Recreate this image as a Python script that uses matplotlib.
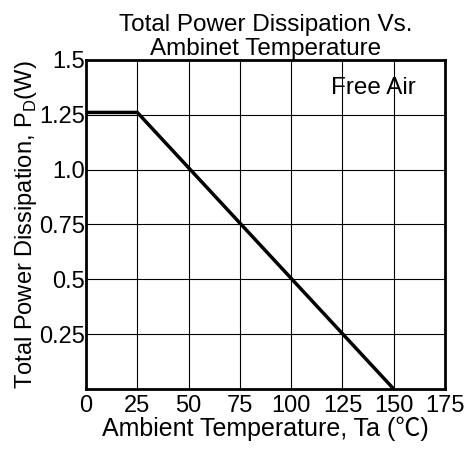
import matplotlib
matplotlib.use('Agg')
import matplotlib.pyplot as plt

plt.rcParams['font.family'] = ['Liberation Sans', 'Noto Sans CJK JP', 'DejaVu Sans']

# Derating curve
temp = [0, 25, 150]
power = [1.26, 1.26, 0.0]

xticks = [0, 25, 50, 75, 100, 125, 150, 175]
xticklabels = ['0', '25', '50', '75', '100', '125', '150', '175']
yticks = [0, 0.25, 0.5, 0.75, 1.0, 1.25, 1.5]
yticklabels = ['', '0.25', '0.5', '0.75', '1.0', '1.25', '1.5']

fig = plt.figure(figsize=(4.65, 4.51), dpi=100)
ax = fig.add_axes([0.185, 0.1375, 0.772, 0.73])

ax.plot(temp, power, color='black', lw=2.5, solid_capstyle='butt')

ax.set_xlim(0, 175)
ax.set_ylim(0, 1.5)
ax.set_xticks(xticks)
ax.set_xticklabels(xticklabels)
ax.set_yticks(yticks)
ax.set_yticklabels(yticklabels)
ax.tick_params(length=0, labelsize=17)
ax.tick_params(axis='x', pad=4)
ax.tick_params(axis='y', pad=1)
ax.grid(True, color='black', lw=0.8)
for s in ax.spines.values():
    s.set_linewidth(2)

ax.text(140, 1.37, 'Free Air', fontsize=17.5, ha='center', va='center')

ax.set_title('Total Power Dissipation Vs.\nAmbinet Temperature', fontsize=17.5,
             linespacing=1.1, pad=3)
ax.set_xlabel('Ambient Temperature, Ta (℃)', fontsize=18, labelpad=0)
ax.set_ylabel('Total Power Dissipation, P$_\\mathregular{D}$(W)', fontsize=17,
              labelpad=0)

fig.savefig('out.png', dpi=100)
